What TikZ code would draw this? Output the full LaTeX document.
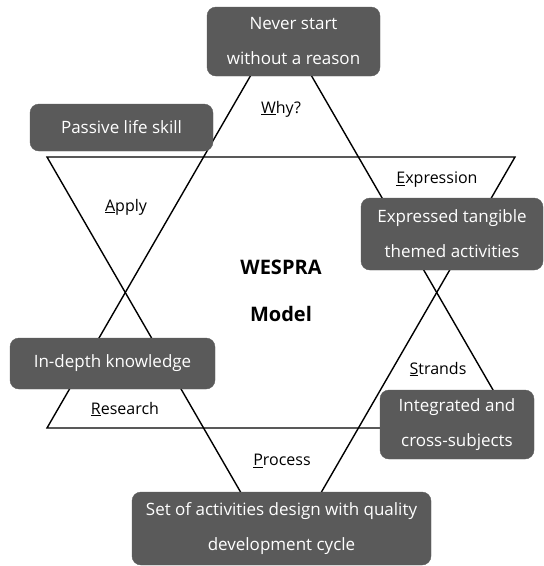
\documentclass[tikz,border=0pt]{standalone}
\usepackage{fontspec}
\setmainfont{Open Sans}
\definecolor{boxgray}{HTML}{5A5A5A}
\tikzset{
  box/.style={draw=boxgray, fill=boxgray, rounded corners=9pt, text=white, align=center, inner sep=0pt,
    font=\fontsize{17}{35}\selectfont},
  lbl/.style={font=\fontsize{16}{19}\selectfont, inner sep=0pt},
  title/.style={font=\fontsize{20}{24}\selectfont\bfseries, inner sep=0pt},
  tri/.style={draw=black, line width=1.4pt, line join=miter}
}
\begin{document}
\begin{tikzpicture}[x=1pt,y=-1pt]
\useasboundingbox (0,0) rectangle (544,566);
% down triangle
\coordinate (D1) at (47,157);
\coordinate (D2) at (515,157);
\coordinate (D3) at (281,562);
% up triangle
\coordinate (U1) at (47,428);
\coordinate (U2) at (515,428);
\coordinate (U3) at (281,23);
\draw[tri] (D1) -- (D2) -- (D3) -- cycle;
\draw[tri] (U1) -- (U2) -- (U3) -- cycle;
% boxes
\node[box, minimum width=173pt, minimum height=69pt] (why) at (293.5,41.5) {Never start\\without a reason};
\node[box, minimum width=183pt, minimum height=47pt] (passive) at (121.5,127.5) {Passive life skill};
\node[box, minimum width=182pt, minimum height=72pt] (expr) at (452,234) {Expressed tangible\\themed activities};
\node[box, minimum width=205pt, minimum height=51pt] (depth) at (112.5,363.5) {In-depth knowledge};
\node[box, minimum width=154pt, minimum height=69pt] (integ) at (457,424.5) {Integrated and\\cross-subjects};
\node[box, minimum width=299pt, minimum height=73pt] (set) at (281.5,528.5) {Set of activities design with quality\\development cycle};
% labels
\node[lbl] (lwhy) at (281,109) {\underline{W}hy?};
\node[lbl] (lapply) at (126,207) {\underline{A}pply};
\node[lbl] (lexpr) at (437,180) {\underline{E}xpression};
\node[lbl] (lstr) at (438,369) {\underline{S}trands};
\node[lbl] (lres) at (125,409) {\underline{R}esearch};
\node[lbl] (lproc) at (282,461) {\underline{P}rocess};
\node[title] (t1) at (281,267) {WESPRA};
\node[title] (t2) at (281,314) {Model};
\end{tikzpicture}
\end{document}
